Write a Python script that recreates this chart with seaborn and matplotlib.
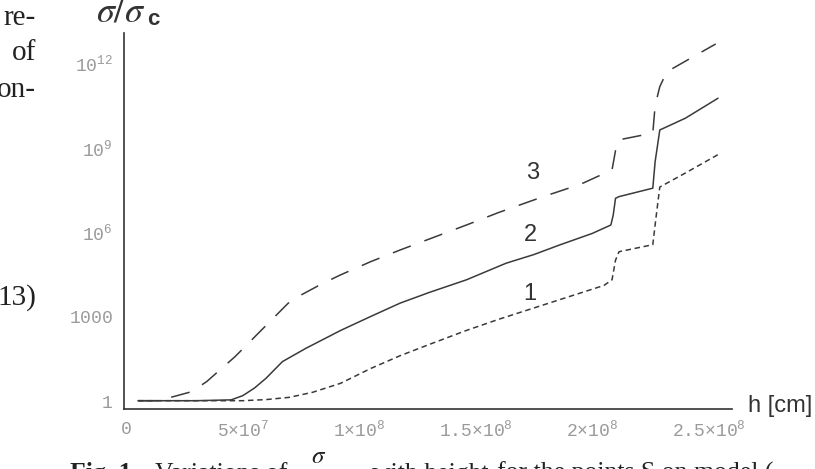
import numpy as np
import pandas as pd
import matplotlib
matplotlib.use("Agg")
import matplotlib.pyplot as plt
import seaborn as sns
from matplotlib.ticker import FixedLocator, FixedFormatter, NullFormatter

# ---------------- data (h in units of 1e8 cm, sigma/sigma_c as log10) ----------------
h1 = [0.05, 0.3, 0.5, 0.6, 0.7, 0.8, 0.92, 1.05, 1.175, 1.3, 1.46, 1.6, 1.75, 1.9, 2.05,
      2.085, 2.10, 2.115, 2.26, 2.275, 2.29, 2.4, 2.55]
log1 = [0.0, 0.0, 0.0, 0.04, 0.12, 0.3, 0.62, 1.15, 1.6, 2.0, 2.5, 2.9, 3.3, 3.7, 4.1,
        4.3, 5.0, 5.3, 5.55, 6.6, 7.6, 8.1, 8.8]

h2 = [0.05, 0.3, 0.45, 0.5, 0.55, 0.6, 0.67, 0.77, 0.92, 1.05, 1.175, 1.3, 1.46, 1.63, 1.75,
      1.86, 2.0, 2.08, 2.09, 2.10, 2.115, 2.26, 2.27, 2.29, 2.4, 2.54]
log2 = [0.0, 0.0, 0.03, 0.18, 0.45, 0.8, 1.39, 1.86, 2.5, 3.0, 3.47, 3.85, 4.3, 4.89, 5.2,
        5.54, 5.95, 6.25, 6.6, 7.2, 7.26, 7.56, 8.5, 9.63, 10.05, 10.76]

h3 = [0.05, 0.13, 0.2, 0.28, 0.345, 0.467, 0.581, 0.695, 0.75, 0.831, 0.918, 1.05, 1.175,
      1.3, 1.46, 1.6, 1.79, 1.95, 2.085, 2.10, 2.115, 2.26, 2.27, 2.29, 2.32, 2.53]
log3 = [0.0, 0.0, 0.14, 0.32, 0.68, 1.57, 2.52, 3.47, 3.76, 4.12, 4.47, 4.95, 5.36,
        5.75, 6.25, 6.7, 7.26, 7.7, 8.21, 8.9, 9.28, 9.52, 10.5, 11.17, 11.7, 12.69]

curve_names = ["1", "2", "3"]
label_h = [1.733, 1.733, 1.745]
label_log = [3.78, 5.90, 8.10]

xtick_vals = [0, 0.5, 1.0, 1.5, 2.0, 2.5]
xtick_labels = [r"$\mathrm{0}$", r"$\mathrm{5×10^{7}}$", r"$\mathrm{1×10^{8}}$",
                r"$\mathrm{1.5×10^{8}}$", r"$\mathrm{2×10^{8}}$", r"$\mathrm{2.5×10^{8}}$"]
ytick_exps = [0, 3, 6, 9, 12]
ytick_labels = [r"$\mathrm{1}$", r"$\mathrm{1000}$", r"$\mathrm{10^{6}}$",
                r"$\mathrm{10^{9}}$", r"$\mathrm{10^{12}}$"]

# ---------------- figure ----------------
sns.set_theme(style="white")
plt.rcParams["mathtext.fontset"] = "custom"
plt.rcParams["mathtext.rm"] = "Liberation Mono"
plt.rcParams["mathtext.it"] = "Liberation Mono:italic"
plt.rcParams["mathtext.bf"] = "Liberation Mono:bold"

W, H = 815, 469
fig = plt.figure(figsize=(W / 100, H / 100), dpi=100)
ax = fig.add_axes([124 / W, 1 - 409 / H, 608 / W, 376 / H])

line_col = "#3a3a3a"
styles = {"1": (0, (3.6, 2.4)), "2": "-", "3": (0, (12.5, 9.5))}
for name, hs, ls_ in zip(curve_names, [h1, h2, h3], [log1, log2, log3]):
    df = pd.DataFrame({"h": np.array(hs) * 1e8, "ratio": 10.0 ** np.array(ls_)})
    sns.lineplot(data=df, x="h", y="ratio", ax=ax, color=line_col, lw=1.1,
                 linestyle=styles[name], sort=False, estimator=None)

ax.set_yscale("log")
ax.set_xlim(-0.01e8, 2.60e8)
ax.set_ylim(10 ** -0.295, 10 ** 13.08)
ax.set_xlabel("")
ax.set_ylabel("")

# ticks
ax.xaxis.set_major_locator(FixedLocator([v * 1e8 for v in xtick_vals]))
ax.xaxis.set_major_formatter(FixedFormatter(xtick_labels))
ax.xaxis.set_minor_locator(FixedLocator([k * 1e7 for k in range(0, 26)]))
ax.yaxis.set_major_locator(FixedLocator([10.0 ** e for e in ytick_exps]))
ax.yaxis.set_major_formatter(FixedFormatter(ytick_labels))
ax.yaxis.set_minor_locator(FixedLocator([k * 10.0 ** (e - 1) for e in ytick_exps[1:] for k in range(2, 10)]))
ax.yaxis.set_minor_formatter(NullFormatter())

ax.tick_params(which="major", direction="in", length=5, width=1.0, color="#444444",
               labelcolor="#9a9a9a", labelsize=13)
ax.tick_params(which="minor", direction="in", length=3, width=0.8, color="#444444")
ax.tick_params(axis="y", which="major", pad=8)
ax.tick_params(axis="x", which="major", pad=8)

for s in ["top", "right"]:
    ax.spines[s].set_visible(False)
for s in ["left", "bottom"]:
    ax.spines[s].set_color("#333333")
    ax.spines[s].set_linewidth(1.2)

# curve labels
for name, lh, ll in zip(curve_names, label_h, label_log):
    ax.text(lh * 1e8, 10 ** ll, name, ha="center", va="center", fontsize=17,
            family="Liberation Sans", color="#333333")

# axis titles
fig.text(96 / W, 1 - 21 / H, r"$\sigma/\sigma$", fontsize=26, color="#333333",
         ha="left", va="baseline", math_fontfamily="stix")
fig.text(147 / W, 1 - 25 / H, "c", fontsize=16, fontweight="bold",
         family="Liberation Sans", color="#333333", ha="left", va="baseline")
fig.text(748 / W, 1 - 412 / H, "h [cm]", fontsize=17, family="Liberation Sans",
         color="#333333", ha="left", va="baseline")

# surrounding page text fragments
serif = "Liberation Serif"
for txt, py in [("re-", 25), ("of", 60), ("on-", 97), ("13)", 305)]:
    fig.text(36 / W, 1 - py / H, txt, fontsize=21, family=serif, color="#222222",
             ha="right", va="baseline")
cap_base = 1 - 480 / H
fig.text(70 / W, cap_base, "Fig. 1.", fontsize=18.5, family=serif, fontweight="bold",
         color="#222222", ha="left", va="baseline")
fig.text(155 / W, cap_base, "Variations of", fontsize=18.5, family=serif,
         color="#222222", ha="left", va="baseline")
fig.text(311 / W, 1 - 463 / H, r"$\sigma$", fontsize=18, color="#222222",
         ha="left", va="baseline", math_fontfamily="stix")
fig.text(372 / W, cap_base, "with height", fontsize=18.5, family=serif,
         color="#222222", ha="left", va="baseline")
fig.text(497 / W, cap_base, "for the points S on model (", fontsize=18.5, family=serif,
         color="#222222", ha="left", va="baseline")

fig.savefig("out.png", dpi=100, facecolor="white")
